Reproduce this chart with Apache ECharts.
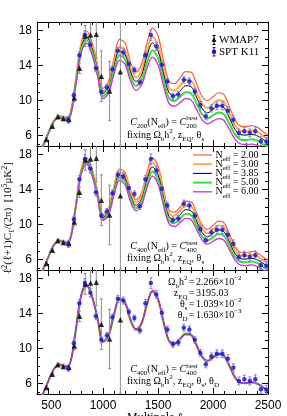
<!DOCTYPE html>
<html><head><meta charset="utf-8">
<script src="https://cdn.jsdelivr.net/npm/echarts@6/dist/echarts.min.js"></script>
<style>html,body{margin:0;padding:0;background:#fff}#c{width:287px;height:416px}</style>
</head><body><div id="c"></div>
<script>
// ---------- data ----------
const ell=[400,450,500,550,600,650,700,750,800,850,900,950,1000,1050,1100,1150,1200,1250,1300,1350,1400,1450,1500,1550,1600,1650,1700,1750,1800,1850,1900,1950,2000,2050,2100,2150,2200,2250,2300,2350,2400,2450,2500];
// best fit, N_eff = 3.85 (identical in all panels)
const black385=[3.3,4.7,6.2,7.6,8.2,7.95,8.3,11.9,16.0,17.3,16.0,13.5,10.8,11.5,13.9,15.7,15.3,13.3,12.2,12.9,15.1,16.6,15.7,13.1,10.9,10.6,11.1,11.7,11.6,10.4,9.1,8.6,9.0,9.4,9.2,8.0,6.7,6.1,6.05,6.15,6.0,5.6,5.2];
// panel 1 : C_200 normalisation
const p1Red=[3.3,4.7,6.2,7.64,8.29,8.08,8.48,12.23,16.53,17.97,16.7,14.17,11.39,12.2,14.82,17.0,16.6,14.4,13.27,14.11,16.59,18.33,17.43,14.61,12.22,11.94,12.57,13.31,13.26,11.94,10.5,9.98,10.44,10.9,10.67,9.28,7.77,7.08,7.02,7.13,6.96,6.5,6.03];
const p1Orange=[3.3,4.7,6.2,7.62,8.24,8.0,8.37,12.03,16.22,17.57,16.29,13.77,11.04,11.78,14.28,16.16,15.78,13.75,12.64,13.39,15.71,17.31,16.41,13.72,11.44,11.15,11.7,12.36,12.28,11.03,9.67,9.16,9.61,10.06,9.84,8.56,7.17,6.53,6.47,6.58,6.42,5.99,5.56];
const p1Green=[3.3,4.7,6.18,7.56,8.14,7.87,8.2,11.72,15.72,16.95,15.64,13.16,10.5,11.16,13.45,15.15,14.73,12.77,11.68,12.32,14.38,15.77,14.88,12.38,10.27,9.96,10.41,10.95,10.82,9.67,8.44,7.96,8.3,8.65,8.44,7.32,6.11,5.55,5.49,5.57,5.42,5.04,4.67];
const p1Magenta=[3.3,4.69,6.15,7.51,8.06,7.78,8.08,11.53,15.42,16.59,15.26,12.82,10.21,10.81,13.0,14.61,14.17,12.25,11.18,11.76,13.69,14.97,14.09,11.69,9.68,9.36,9.75,10.22,10.08,8.99,7.82,7.35,7.65,7.94,7.73,6.69,5.57,5.04,4.97,5.02,4.87,4.52,4.17];
// panel 2 : C_400 normalisation
const p2Red=[3.3,4.7,6.2,7.6,8.23,8.01,8.39,12.07,16.28,17.66,16.39,13.88,11.14,11.9,14.44,16.36,16.0,13.95,12.84,13.62,16.0,17.65,16.74,14.02,11.7,11.42,11.99,12.68,12.62,11.35,9.96,9.44,9.91,10.39,10.2,8.9,7.47,6.83,6.79,6.92,6.78,6.34,5.91];
const p2Orange=[3.3,4.7,6.2,7.6,8.21,7.98,8.34,11.98,16.14,17.48,16.2,13.69,10.97,11.7,14.17,16.03,15.65,13.63,12.52,13.26,15.55,17.12,16.22,13.56,11.3,11.01,11.55,12.19,12.11,10.87,9.53,9.02,9.46,9.89,9.7,8.45,7.09,6.46,6.42,6.54,6.39,5.97,5.55];
const p2Green=[3.3,4.7,6.2,7.6,8.19,7.92,8.26,11.82,15.86,17.12,15.8,13.31,10.63,11.3,13.63,15.37,14.95,12.97,11.88,12.54,14.65,16.08,15.18,12.64,10.5,10.19,10.65,11.21,11.09,9.93,8.67,8.18,8.54,8.91,8.7,7.55,6.31,5.74,5.68,5.76,5.61,5.23,4.85];
const p2Magenta=[3.3,4.7,6.2,7.6,8.17,7.89,8.21,11.73,15.72,16.94,15.61,13.12,10.46,11.1,13.36,15.04,14.6,12.65,11.56,12.18,14.2,15.55,14.66,12.18,10.1,9.78,10.21,10.72,10.59,9.45,8.24,7.76,8.09,8.41,8.2,7.1,5.93,5.37,5.31,5.38,5.22,4.86,4.49];
// panel 3 : C_400 normalisation, theta_D fixed too
const p3Red=[3.27,4.65,6.14,7.52,8.12,7.87,8.22,11.78,15.84,17.13,15.84,13.37,10.69,11.39,13.76,15.54,15.15,13.17,12.08,12.77,14.95,16.43,15.54,12.97,10.79,10.49,10.99,11.58,11.48,10.3,9.01,8.51,8.91,9.31,9.11,7.92,6.63,6.04,5.99,6.09,5.94,5.54,5.15];
const p3Orange=[3.28,4.68,6.17,7.56,8.16,7.91,8.26,11.84,15.92,17.21,15.92,13.43,10.75,11.44,13.83,15.62,15.22,13.23,12.14,12.84,15.02,16.52,15.62,13.03,10.85,10.55,11.04,11.64,11.54,10.35,9.05,8.56,8.96,9.35,9.15,7.96,6.67,6.07,6.02,6.12,5.97,5.57,5.17];
const p3Green=[3.3,4.7,6.2,7.6,8.2,7.95,8.3,11.9,16.0,17.3,16.0,13.5,10.8,11.5,13.9,15.7,15.3,13.3,12.2,12.9,15.1,16.6,15.7,13.1,10.9,10.6,11.1,11.7,11.6,10.4,9.1,8.6,9.0,9.4,9.2,8.0,6.7,6.1,6.05,6.15,6.0,5.6,5.2];
const p3Magenta=[3.3,4.71,6.22,7.62,8.22,7.97,8.32,11.93,16.05,17.35,16.05,13.54,10.83,11.53,13.94,15.75,15.35,13.34,12.24,12.94,15.15,16.65,15.75,13.14,10.93,10.63,11.13,11.74,11.63,10.43,9.13,8.63,9.03,9.43,9.23,8.02,6.72,6.12,6.07,6.17,6.02,5.62,5.22];
// WMAP7 band powers
const wmapL=[485,540,590,640,690,740,787,838,887,939,985,1060,1158];
const wmapV=[5.55,7.05,8.15,7.95,7.85,10.3,13.7,17.4,17.5,17.6,12.8,11.1,13.3];
const wmapE=[0.15,0.15,0.2,0.25,0.35,0.45,0.6,1.2,1.6,2.7,2.9,3.4,8.4];
// SPT K11 band powers
const sptL=[685,735,785,835,885,935,985,1035,1085,1135,1185,1235,1285,1335,1385,1435,1485,1535,1585,1635,1685,1735,1785,1835,1885,1935,1985,2035,2085,2135,2185,2235,2285,2335,2385,2435,2485];
const sptV=[7.75,10.6,15.2,17.5,16.4,13.7,11.0,11.5,13.6,15.7,15.5,14.2,13.5,12.1,15.2,17.5,16.2,14.1,12.2,10.5,10.7,12.4,12.2,11.0,9.5,8.2,9.1,9.4,9.4,8.85,7.8,6.3,6.5,6.3,6.5,5.35,5.3];
const sptE=[0.35,0.35,0.4,0.5,0.45,0.4,0.35,0.35,0.35,0.4,0.4,0.35,0.35,0.35,0.4,0.6,0.45,0.4,0.35,0.35,0.35,0.4,0.4,0.4,0.4,0.4,0.4,0.45,0.45,0.45,0.45,0.45,0.45,0.45,0.5,0.5,0.5];
// ticks
const xMajor=[500,1000,1500,2000,2500];
const xMinor=[600,700,800,900,1100,1200,1300,1400,1600,1700,1800,1900,2100,2200,2300,2400];
const yMajor=[6,10,14,18];
const yMinor=[5,7,8,9,11,12,13,15,16,17];
const neffLabels=['2.00','3.00','3.85','5.00','6.00'];

// ---------- styles ----------
const lineColors=['#ff5a3c','#ffaa50','#000000','#3ddc3d','#cc30dd'];
const lineWidths=[1.2,2,1,2,1.3];
const panelCurves=[[p1Red,p1Orange,black385,p1Green,p1Magenta],[p2Red,p2Orange,black385,p2Green,p2Magenta],[p3Red,p3Orange,p3Green,black385,p3Magenta]];
const panelColors=[lineColors,lineColors,[lineColors[0],lineColors[1],lineColors[3],lineColors[2],lineColors[4]]];
const panelWidths=[lineWidths,lineWidths,[lineWidths[0],lineWidths[1],lineWidths[3],lineWidths[2],lineWidths[4]]];
const tops=[22,146,270], H=124, L=37, W=231;
const YMIN=4.8, YMAX=19;
const labelFont={color:'#000',fontSize:12,fontFamily:'Liberation Sans'};

const grids=[], xAxes=[], yAxes=[], series=[];
function tick(len,vals){return {show:true,inside:true,length:len,customValues:vals,lineStyle:{color:'#000',width:1}};}
for(let g=0;g<3;g++){
  grids.push({left:L,top:tops[g],width:W,height:H});
  const xb={type:'value',gridIndex:g,min:400,max:2500,splitLine:{show:false}};
  xAxes.push(Object.assign({},xb,{position:'bottom',axisLine:{show:true,onZero:false,lineStyle:{color:'#000',width:1}},axisTick:tick(6,xMajor),
    axisLabel:Object.assign({show:g===2,customValues:xMajor,margin:6,formatter:v=>v===500?'  500':String(v)},labelFont)}));
  xAxes.push(Object.assign({},xb,{position:'bottom',axisLine:{show:false,onZero:false},axisTick:tick(3,xMinor),axisLabel:{show:false}}));
  xAxes.push(Object.assign({},xb,{position:'top',axisLine:{show:true,onZero:false,lineStyle:{color:'#000',width:1}},axisTick:tick(6,xMajor),axisLabel:{show:false}}));
  xAxes.push(Object.assign({},xb,{position:'top',axisLine:{show:false,onZero:false},axisTick:tick(3,xMinor),axisLabel:{show:false}}));
  const yb={type:'value',gridIndex:g,min:YMIN,max:YMAX,splitLine:{show:false}};
  yAxes.push(Object.assign({},yb,{position:'left',axisLine:{show:true,onZero:false,lineStyle:{color:'#000',width:1}},axisTick:tick(6,yMajor),
    axisLabel:Object.assign({show:true,customValues:yMajor,margin:5},labelFont)}));
  yAxes.push(Object.assign({},yb,{position:'left',axisLine:{show:false,onZero:false},axisTick:tick(3,yMinor),axisLabel:{show:false}}));
  yAxes.push(Object.assign({},yb,{position:'right',axisLine:{show:true,onZero:false,lineStyle:{color:'#000',width:1}},axisTick:tick(6,yMajor),axisLabel:{show:false}}));
  yAxes.push(Object.assign({},yb,{position:'right',axisLine:{show:false,onZero:false},axisTick:tick(3,yMinor),axisLabel:{show:false}}));
  const xi=4*g, yi=4*g;
  panelCurves[g].forEach((arr,k)=>{
    series.push({type:'line',xAxisIndex:xi,yAxisIndex:yi,data:ell.map((l,i)=>[l,arr[i]]),showSymbol:false,smooth:0.35,
      lineStyle:{color:panelColors[g][k],width:panelWidths[g][k]},silent:true,z:2});
  });
  series.push({type:'custom',xAxisIndex:xi,yAxisIndex:yi,data:wmapL.map((l,i)=>[l,wmapV[i],wmapE[i]]),renderItem:errItem('#8c8c8c'),encode:{x:0,y:1},silent:true,z:3});
  series.push({type:'custom',xAxisIndex:xi,yAxisIndex:yi,data:sptL.map((l,i)=>[l,sptV[i],sptE[i]]),renderItem:errItem('#8080e0'),encode:{x:0,y:1},silent:true,z:3});
  series.push({type:'scatter',xAxisIndex:xi,yAxisIndex:yi,data:wmapL.map((l,i)=>[l,wmapV[i]]),symbol:'triangle',symbolSize:5.5,itemStyle:{color:'#000'},silent:true,z:4});
  series.push({type:'scatter',xAxisIndex:xi,yAxisIndex:yi,data:sptL.map((l,i)=>[l,sptV[i]]),symbol:'circle',symbolSize:4.5,itemStyle:{color:'#1414c8'},silent:true,z:4});
}
function errItem(color){
  return function(params,api){
    const x=api.value(0),y=api.value(1),e=api.value(2);
    const cs=params.coordSys;
    const a=api.coord([x,y+e]), b=api.coord([x,y-e]);
    const y1=Math.max(a[1],cs.y), y2=Math.min(b[1],cs.y+cs.height);
    const st={stroke:color,lineWidth:1};
    const ch=[{type:'line',shape:{x1:a[0],y1:y1,x2:a[0],y2:y2},style:st}];
    if(a[1]>=cs.y) ch.push({type:'line',shape:{x1:a[0]-1.5,y1:a[1],x2:a[0]+1.5,y2:a[1]},style:st});
    if(b[1]<=cs.y+cs.height) ch.push({type:'line',shape:{x1:b[0]-1.5,y1:b[1],x2:b[0]+1.5,y2:b[1]},style:st});
    return {type:'group',children:ch};
  };
}

// ---------- text / graphics ----------
const SERIF='"Liberation Serif"';
function rich(fs){return {
  b:{fontSize:fs,lineHeight:8,verticalAlign:'bottom',fontFamily:'Liberation Serif',fill:'#000'},
  p:{fontSize:fs,lineHeight:8,verticalAlign:'top',fontFamily:'Liberation Serif',fill:'#000'},
  i:{fontSize:10,fontStyle:'italic',fontFamily:'Liberation Serif',lineHeight:15,fill:'#000'}
};}
function T(x,y,text,o){return {type:'text',x:x,y:y,silent:true,z:100,style:Object.assign({text:text,fill:'#000',font:'10px '+SERIF,textAlign:'left',textVerticalAlign:'middle',lineHeight:15,rich:rich(7)},o||{})};}
function Ln(x1,y1,x2,y2,c,w){return {type:'line',silent:true,z:100,shape:{x1:x1,y1:y1,x2:x2,y2:y2},style:{stroke:c,lineWidth:w||1}};}
const G=[];
// legend panel 1
G.push(Ln(214,35.5,214,44.5,'#000'),Ln(212.5,35.5,215.5,35.5,'#000'),Ln(212.5,44.5,215.5,44.5,'#000'));
G.push({type:'polygon',silent:true,z:101,shape:{points:[[214,37.4],[211.5,41.8],[216.5,41.8]]},style:{fill:'#000'}});
G.push(Ln(214,47.5,214,56,'#1414c8'),Ln(212.5,47.5,215.5,47.5,'#1414c8'),Ln(212.5,56,215.5,56,'#1414c8'));
G.push({type:'circle',silent:true,z:101,shape:{cx:214,cy:51.7,r:2.2},style:{fill:'#1414c8'}});
G.push(T(219,40,'WMAP7',{font:'11px '+SERIF}),T(219,52,'SPT K11',{font:'11px '+SERIF}));
// legend panel 2
const legY=[155,164.2,173.4,182.6,191.8];
neffLabels.forEach((s,k)=>{
  G.push(Ln(193,legY[k],212,legY[k],lineColors[k],lineWidths[k]));
  G.push(T(215.5,legY[k],'N{b|eff} = '+s));
});
// annotations
function normText(y,sub){
  G.push(T(177,y,'{i|C}{b|'+sub+'}(N{b|eff}) =',{textAlign:'right'}));
  G.push(T(179.5,y,'{i|C}'));
  G.push(T(186.3,y-3.6,'best',{font:'7px '+SERIF}));
  G.push(T(186.3,y+3.8,sub,{font:'7px '+SERIF}));
}
normText(122,'200'); G.push(T(127,135,'fixing Ω{b|b}h{p|2}, z{b|EQ}, θ{b|s}'));
normText(246.5,'400'); G.push(T(127,258.5,'fixing Ω{b|b}h{p|2}, z{b|EQ}, θ{b|s}'));
normText(369.5,'400'); G.push(T(127,381.5,'fixing Ω{b|b}h{p|2}, z{b|EQ}, θ{b|s}, θ{b|D}'));
// parameter block panel 3
const parY=[282,293,304,315];
const parL=['Ω{b|b}h{p|2}','z{b|EQ}','θ{b|s}','θ{b|D}'];
const parV=['2.266×10{p|−2}','3195.03','1.039×10{p|−2}','1.630×10{p|−3}'];
parY.forEach((y,k)=>{
  G.push(T(187.5,y,parL[k],{textAlign:'right'}));
  G.push(T(191.5,y,'=',{textAlign:'center'}));
  G.push(T(196,y,parV[k]));
});
// axis titles
G.push({type:'text',x:8,y:218,rotation:Math.PI/2,silent:true,z:100,style:{text:'ℓ{p|2}(ℓ+1)C{b|ℓ}/(2π)  [10{p|5}μK{p|2}]',fill:'#000',font:'11px '+SERIF,textAlign:'center',textVerticalAlign:'middle',lineHeight:15,rich:rich(8)}});
G.push({type:'text',x:155,y:412,silent:true,z:100,style:{text:'Multipole ℓ',fill:'#000',font:'12px '+SERIF,textAlign:'center',textVerticalAlign:'top'}});

const chart=echarts.init(document.getElementById('c'),null,{renderer:'canvas'});
chart.setOption({animation:false,backgroundColor:'#fff',grid:grids,xAxis:xAxes,yAxis:yAxes,series:series,graphic:{elements:G}});
</script></body></html>
